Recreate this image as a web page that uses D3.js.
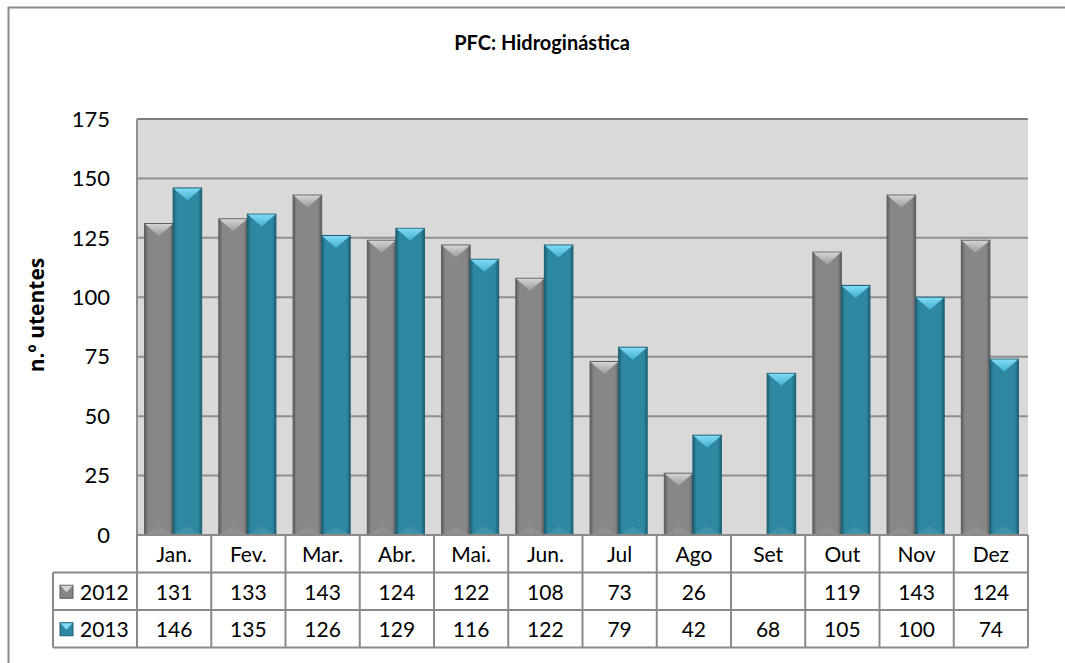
<!DOCTYPE html>
<html>
<head>
<meta charset="UTF-8">
<title>PFC: Hidroginástica</title>
<style>
  body { margin: 0; background: #fff; }
  svg { display: block; font-family: Lato, "Open Sans", sans-serif; }
</style>
</head>
<body>
<svg></svg>
<script src="https://d3js.org/d3.v7.min.js"></script>
<script>

// data
let months = ["Jan.", "Fev.", "Mar.", "Abr.", "Mai.", "Jun.", "Jul", "Ago", "Set", "Out", "Nov", "Dez"];
let years = ["2012", "2013"];
let values2012 = [131, 133, 143, 124, 122, 108, 73, 26, null, 119, 143, 124];
let values2013 = [146, 135, 126, 129, 116, 122, 79, 42, 68, 105, 100, 74];
let yTicks = [0, 25, 50, 75, 100, 125, 150, 175];

let width = 1065, height = 663;
let plot = {left: 137, right: 1028, top: 119, bottom: 535};
let rowH = 37.5;

let svg = d3.select("svg")
    .attr("width", width)
    .attr("height", height);

let series = years.map((y, i) => ({
    year: y,
    values: i == 0 ? values2012 : values2013
}));

// colours for each year: edge, body, bevel top, bevel bottom
let colours = {
    "2012": {edge: "#5c5c5c", body: "#878787", hi: "#d4d4d4", lo: "#9a9a9a"},
    "2013": {edge: "#1c5f73", body: "#2f88a2", hi: "#80dbf5", lo: "#3fb0d2"}
};

let defs = svg.append("defs");
years.forEach(y => {
    let c = colours[y];
    let g = defs.append("linearGradient").attr("id", "body" + y)
        .attr("x1", 0).attr("x2", 1).attr("y1", 0).attr("y2", 0);
    g.append("stop").attr("offset", 0).attr("stop-color", c.edge);
    g.append("stop").attr("offset", 0.13).attr("stop-color", c.body);
    g.append("stop").attr("offset", 0.87).attr("stop-color", c.body);
    g.append("stop").attr("offset", 1).attr("stop-color", c.edge);
    let t = defs.append("linearGradient").attr("id", "top" + y)
        .attr("x1", 0).attr("x2", 0).attr("y1", 0).attr("y2", 1);
    t.append("stop").attr("offset", 0).attr("stop-color", c.hi);
    t.append("stop").attr("offset", 1).attr("stop-color", c.lo);
});

// outer frame
svg.append("path")
    .attr("d", "M8.5,663 L8.5,7.5 L1065,7.5")
    .attr("fill", "none")
    .attr("stroke", "#8c8c8c")
    .attr("stroke-width", 2);

// scales
let x = d3.scaleBand()
    .domain(months)
    .range([plot.left, plot.right]);

let xInner = d3.scaleBand()
    .domain(years)
    .range([0, x.bandwidth()])
    .paddingOuter(0.3);

let y = d3.scaleLinear()
    .domain([0, 175])
    .range([plot.bottom, plot.top]);

// plot area
svg.append("rect")
    .attr("x", plot.left)
    .attr("y", plot.top)
    .attr("width", plot.right - plot.left)
    .attr("height", plot.bottom - plot.top)
    .attr("fill", "#d9d9d9");

svg.append("g")
    .selectAll("line")
    .data(yTicks.filter(d => d > 0))
    .enter()
    .append("line")
    .attr("x1", plot.left)
    .attr("x2", plot.right)
    .attr("y1", d => y(d))
    .attr("y2", d => y(d))
    .attr("stroke", d => d == 175 ? "#7f7f7f" : "#8f8f8f")
    .attr("stroke-width", 2);

svg.append("line")
    .attr("x1", plot.left).attr("x2", plot.left)
    .attr("y1", plot.top).attr("y2", plot.bottom + rowH)
    .attr("stroke", "#8f8f8f")
    .attr("stroke-width", 2);

// y tick labels
svg.append("g")
    .selectAll("text")
    .data(yTicks)
    .enter()
    .append("text")
    .attr("x", 110)
    .attr("y", d => y(d))
    .attr("dy", "0.35em")
    .attr("text-anchor", "end")
    .attr("font-size", 22)
    .attr("fill", "#000")
    .text(d => d);

// bars
let groups = svg.append("g")
    .selectAll("g")
    .data(series)
    .enter()
    .append("g");

let bars = groups.selectAll("g")
    .data(s => s.values.map((v, i) => ({year: s.year, month: months[i], value: v}))
        .filter(d => d.value != null))
    .enter()
    .append("g")
    .attr("transform", d => "translate(" + (x(d.month) + xInner(d.year) - 1) + ",0)");

let bw = xInner.bandwidth();

bars.append("rect")
    .attr("x", 0)
    .attr("y", d => y(d.value))
    .attr("width", bw)
    .attr("height", d => plot.bottom - y(d.value))
    .attr("fill", d => "url(#body" + d.year + ")")
    .attr("stroke", d => colours[d.year].edge)
    .attr("stroke-width", 1);

bars.append("path")
    .attr("d", d => {
        let t = y(d.value) + 0.5;
        return "M0.5," + t + " L" + (bw - 0.5) + "," + t + " L" + (bw / 2) + "," + (t + 12) + " Z";
    })
    .attr("fill", d => "url(#top" + d.year + ")");

bars.append("path")
    .attr("d", "M2," + (plot.bottom - 1) + " L" + (bw - 2) + "," + (plot.bottom - 1) + " L" + (bw / 2) + "," + (plot.bottom - 9) + " Z")
    .attr("fill", "#ffffff")
    .attr("opacity", 0.08);

// data table
let table = svg.append("g");
let tableLine = "#8a8a8a";

// category row
table.selectAll(".cat")
    .data(months)
    .enter()
    .append("text")
    .attr("x", d => x(d) + x.bandwidth() / 2)
    .attr("y", plot.bottom + rowH / 2 + 1)
    .attr("dy", "0.35em")
    .attr("text-anchor", "middle")
    .attr("font-size", 21)
    .text(d => d);

// value rows
series.forEach((s, i) => {
    let rowY = plot.bottom + rowH * (i + 1);
    table.append("g")
        .selectAll("text")
        .data(s.values.map((v, j) => ({month: months[j], value: v})))
        .enter()
        .append("text")
        .attr("x", d => x(d.month) + x.bandwidth() / 2)
        .attr("y", rowY + rowH / 2 + 1)
        .attr("dy", "0.35em")
        .attr("text-anchor", "middle")
        .attr("font-size", 21)
        .text(d => d.value == null ? "" : d.value);

    table.append("rect")
        .attr("x", 60)
        .attr("y", rowY + rowH / 2 - 6)
        .attr("width", 13)
        .attr("height", 13)
        .attr("fill", colours[s.year].body)
        .attr("stroke", colours[s.year].edge)
        .attr("stroke-width", 1);
    table.append("path")
        .attr("d", "M60.5," + (rowY + rowH / 2 - 5.5) + " L72.5," + (rowY + rowH / 2 - 5.5) + " L66.5," + (rowY + rowH / 2 + 1) + " Z")
        .attr("fill", colours[s.year].hi);

    table.append("text")
        .attr("x", 80)
        .attr("y", rowY + rowH / 2 + 1)
        .attr("dy", "0.35em")
        .attr("font-size", 21)
        .text(s.year);
});

// table grid lines
let tableBottom = plot.bottom + rowH * 3;
let hLines = [
    [plot.left, plot.right, plot.bottom],
    [53, plot.right, plot.bottom + rowH],
    [53, plot.right, plot.bottom + rowH * 2],
    [53, plot.right, tableBottom]
];
table.selectAll(".h")
    .data(hLines)
    .enter()
    .append("line")
    .attr("x1", d => d[0]).attr("x2", d => d[1])
    .attr("y1", d => d[2]).attr("y2", d => d[2])
    .attr("stroke", tableLine)
    .attr("stroke-width", 2);

table.selectAll(".v")
    .data(months.map(m => x(m)).concat([plot.right]))
    .enter()
    .append("line")
    .attr("x1", d => d).attr("x2", d => d)
    .attr("y1", plot.bottom).attr("y2", tableBottom)
    .attr("stroke", tableLine)
    .attr("stroke-width", 2);

table.append("line")
    .attr("x1", 53).attr("x2", 53)
    .attr("y1", plot.bottom + rowH).attr("y2", tableBottom)
    .attr("stroke", tableLine)
    .attr("stroke-width", 2);

// titles
svg.append("text")
    .attr("x", 542)
    .attr("y", 43)
    .attr("dy", "0.35em")
    .attr("text-anchor", "middle")
    .attr("font-size", 20)
    .attr("font-weight", "bold")
    .text("PFC: Hidroginástica");

svg.append("text")
    .attr("transform", "translate(37,315) rotate(-90)")
    .attr("dy", "0.35em")
    .attr("text-anchor", "middle")
    .attr("font-size", 21)
    .attr("font-weight", "bold")
    .attr("font-family", "'Open Sans', sans-serif")
    .text("n.º utentes");

</script>
</body>
</html>
